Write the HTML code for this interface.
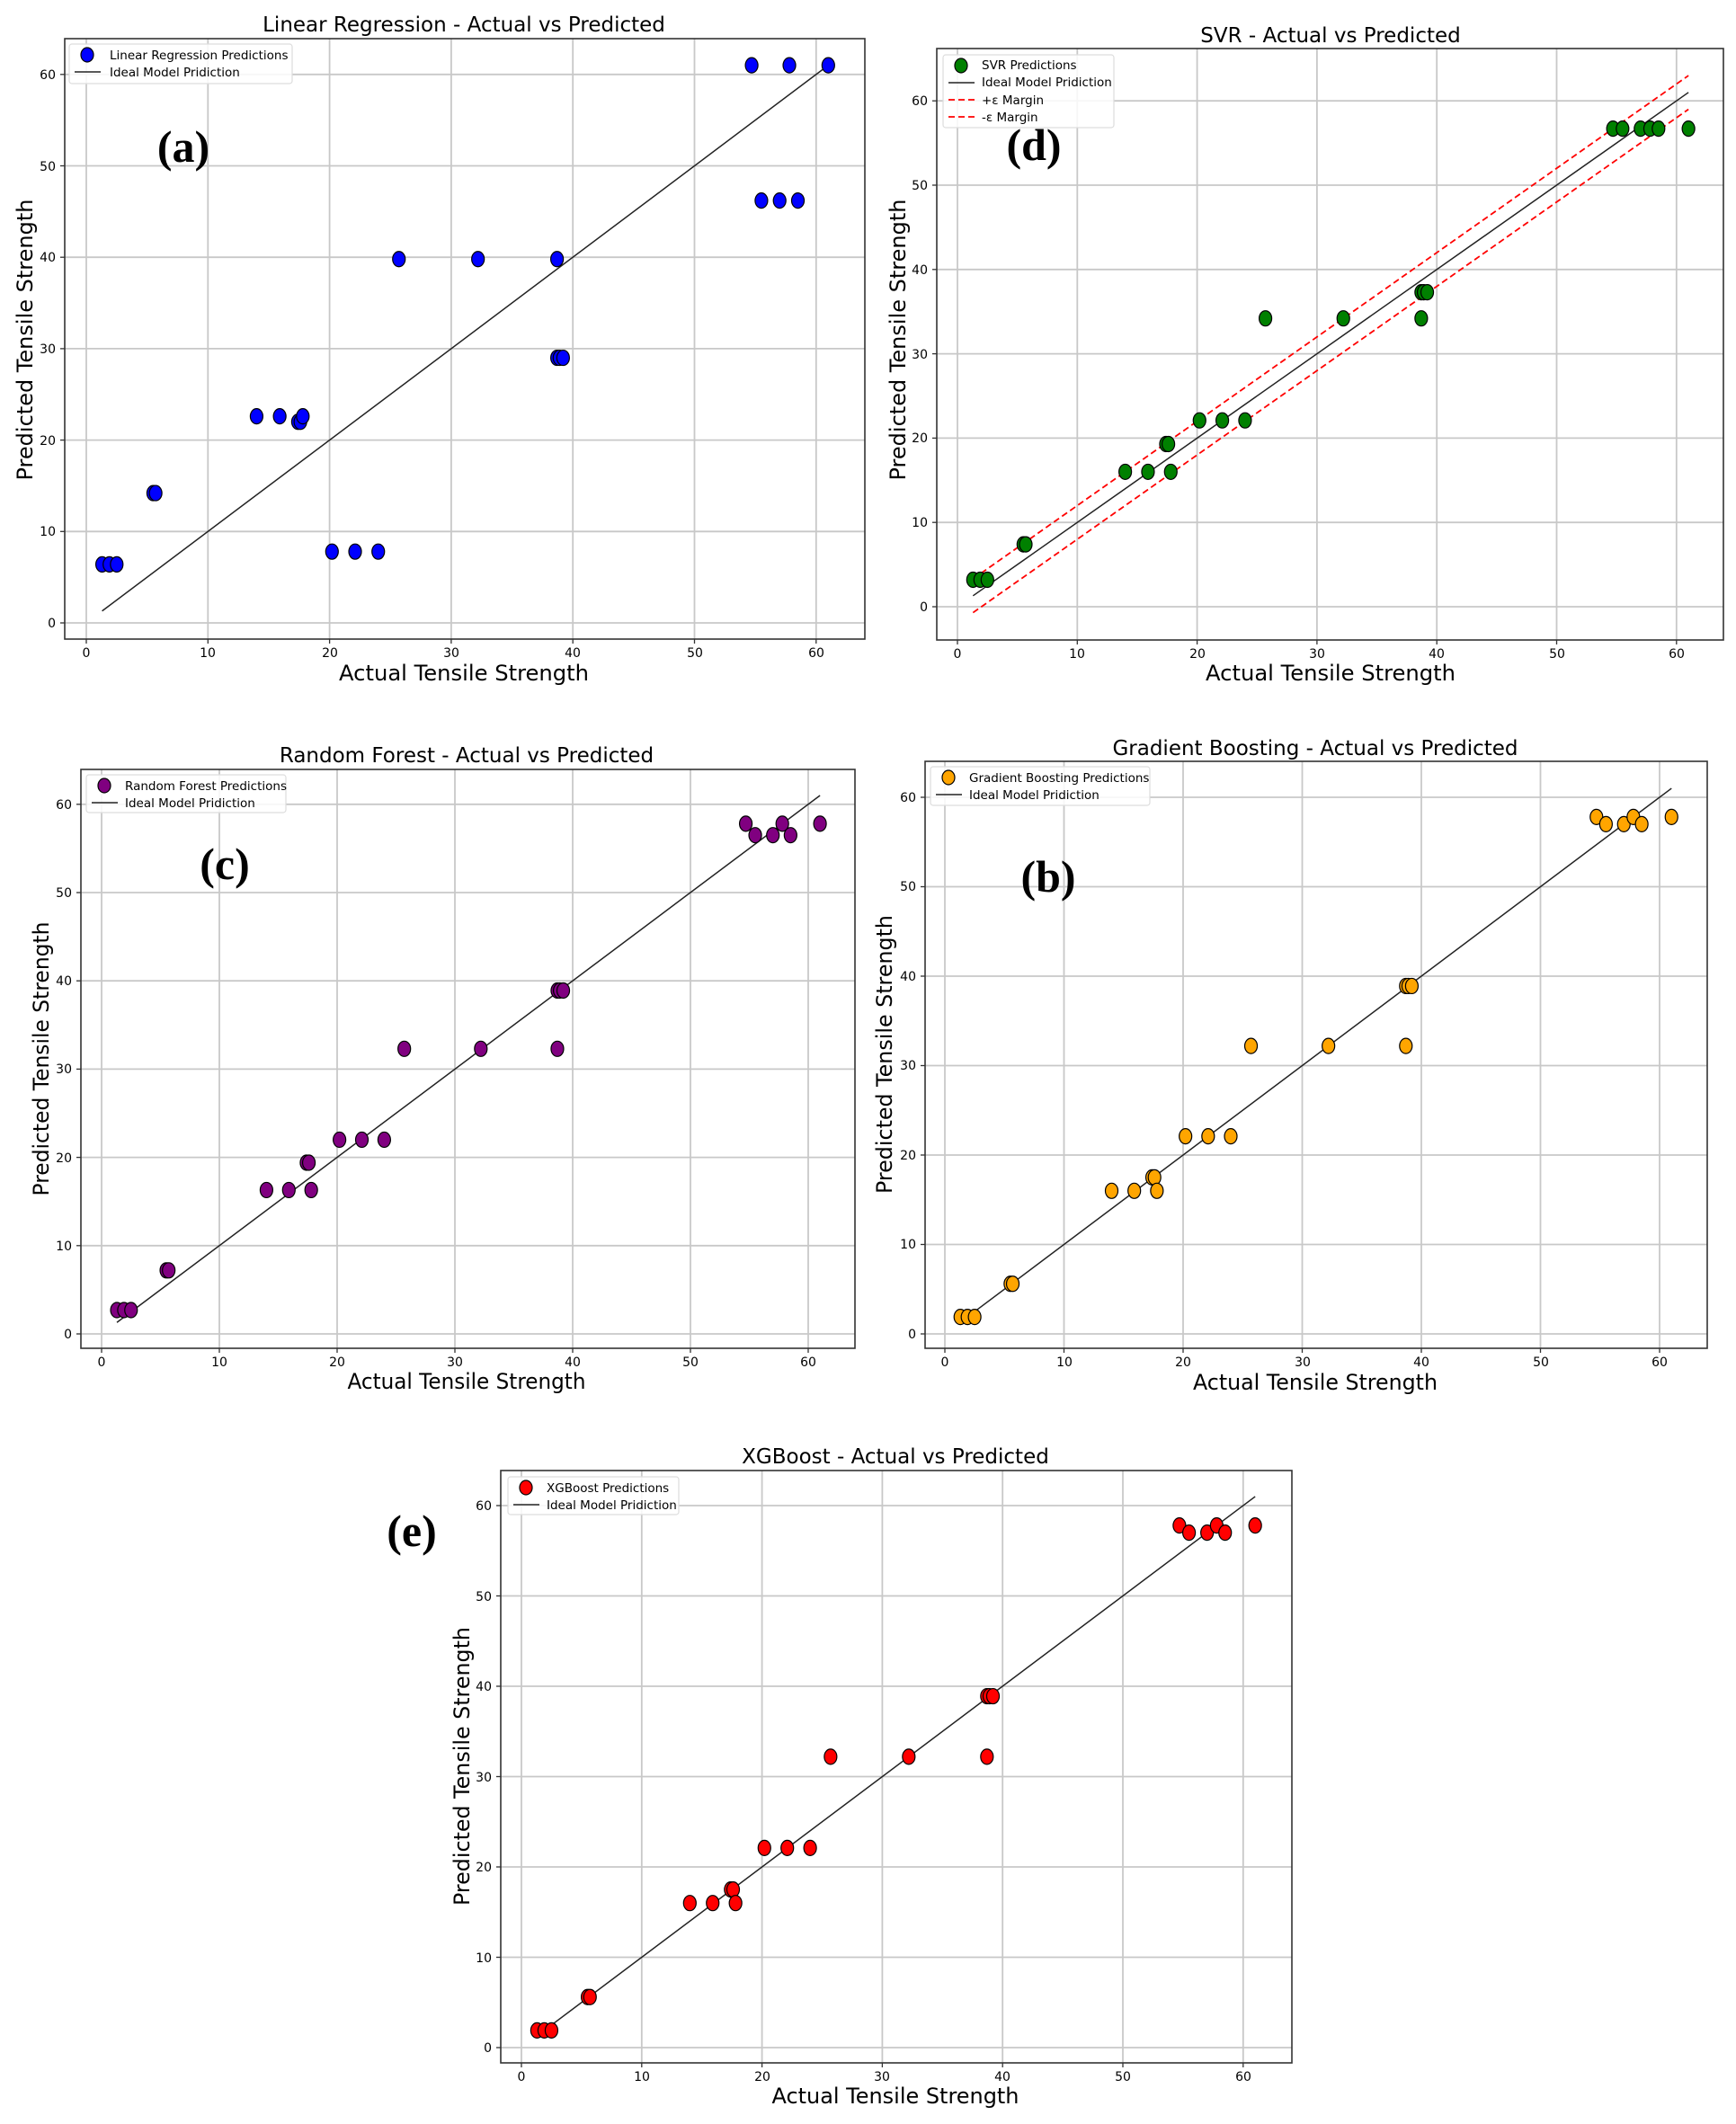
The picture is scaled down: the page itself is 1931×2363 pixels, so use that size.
<!DOCTYPE html>
<html><head><meta charset="utf-8"><style>
html,body{margin:0;padding:0;background:#fff}
svg{display:block}
text{font-family:"DejaVu Sans","Liberation Sans",sans-serif;fill:#000}
.t{font-size:23px}.al{font-size:24px}.tk{font-size:14px}.lg{font-size:13.5px}
.pl{font-family:"Liberation Serif",serif;font-weight:bold;font-size:50px}
</style></head><body>
<svg id="s" width="1931" height="2363" viewBox="0 0 1931 2363" xmlns="http://www.w3.org/2000/svg">
<g id="shapes"></g>
<!-- Panel a -->
<text class="t" x="516" y="35" text-anchor="middle">Linear Regression - Actual vs Predicted</text>
<text class="al" x="516" y="757" text-anchor="middle" textLength="278" lengthAdjust="spacingAndGlyphs">Actual Tensile Strength</text>
<text class="al" transform="translate(36,378) rotate(-90)" text-anchor="middle" textLength="313" lengthAdjust="spacingAndGlyphs">Predicted Tensile Strength</text>
<g class="tk" text-anchor="middle"><text x="96" y="731">0</text><text x="231" y="731">10</text><text x="367" y="731">20</text><text x="502" y="731">30</text><text x="637" y="731">40</text><text x="773" y="731">50</text><text x="908" y="731">60</text></g>
<g class="tk" text-anchor="end"><text x="62" y="698">0</text><text x="62" y="596">10</text><text x="62" y="495">20</text><text x="62" y="393">30</text><text x="62" y="291">40</text><text x="62" y="190">50</text><text x="62" y="88">60</text></g>
<g class="lg"><text x="122" y="66">Linear Regression Predictions</text><text x="122" y="85">Ideal Model Pridiction</text></g>
<text class="pl" x="204" y="180" text-anchor="middle">(a)</text>
<!-- Panel d -->
<text class="t" x="1480" y="47" text-anchor="middle">SVR - Actual vs Predicted</text>
<text class="al" x="1480" y="757" text-anchor="middle" textLength="278" lengthAdjust="spacingAndGlyphs">Actual Tensile Strength</text>
<text class="al" transform="translate(1007,378) rotate(-90)" text-anchor="middle" textLength="313" lengthAdjust="spacingAndGlyphs">Predicted Tensile Strength</text>
<g class="tk" text-anchor="middle"><text x="1065" y="732">0</text><text x="1198" y="732">10</text><text x="1332" y="732">20</text><text x="1465" y="732">30</text><text x="1598" y="732">40</text><text x="1732" y="732">50</text><text x="1865" y="732">60</text></g>
<g class="tk" text-anchor="end"><text x="1032" y="680">0</text><text x="1032" y="586">10</text><text x="1032" y="492">20</text><text x="1032" y="399">30</text><text x="1032" y="305">40</text><text x="1032" y="211">50</text><text x="1032" y="117">60</text></g>
<g class="lg"><text x="1092" y="77">SVR Predictions</text><text x="1092" y="96">Ideal Model Pridiction</text><text x="1092" y="116">+ε Margin</text><text x="1092" y="135">-ε Margin</text></g>
<text class="pl" x="1150" y="178" text-anchor="middle">(d)</text>
<!-- Panel c -->
<text class="t" x="519" y="848" text-anchor="middle">Random Forest - Actual vs Predicted</text>
<text class="al" x="519" y="1545" text-anchor="middle" textLength="265" lengthAdjust="spacingAndGlyphs">Actual Tensile Strength</text>
<text class="al" transform="translate(54,1178) rotate(-90)" text-anchor="middle" textLength="305" lengthAdjust="spacingAndGlyphs">Predicted Tensile Strength</text>
<g class="tk" text-anchor="middle"><text x="113" y="1520">0</text><text x="244" y="1520">10</text><text x="375" y="1520">20</text><text x="506" y="1520">30</text><text x="637" y="1520">40</text><text x="768" y="1520">50</text><text x="899" y="1520">60</text></g>
<g class="tk" text-anchor="end"><text x="80" y="1489">0</text><text x="80" y="1391">10</text><text x="80" y="1293">20</text><text x="80" y="1194">30</text><text x="80" y="1096">40</text><text x="80" y="998">50</text><text x="80" y="900">60</text></g>
<g class="lg"><text x="139" y="879">Random Forest Predictions</text><text x="139" y="898">Ideal Model Pridiction</text></g>
<text class="pl" x="250" y="978" text-anchor="middle">(c)</text>
<!-- Panel b -->
<text class="t" x="1463" y="840" text-anchor="middle">Gradient Boosting - Actual vs Predicted</text>
<text class="al" x="1463" y="1546" text-anchor="middle" textLength="272" lengthAdjust="spacingAndGlyphs">Actual Tensile Strength</text>
<text class="al" transform="translate(992,1173) rotate(-90)" text-anchor="middle" textLength="310" lengthAdjust="spacingAndGlyphs">Predicted Tensile Strength</text>
<g class="tk" text-anchor="middle"><text x="1051" y="1520">0</text><text x="1184" y="1520">10</text><text x="1316" y="1520">20</text><text x="1449" y="1520">30</text><text x="1581" y="1520">40</text><text x="1714" y="1520">50</text><text x="1846" y="1520">60</text></g>
<g class="tk" text-anchor="end"><text x="1019" y="1489">0</text><text x="1019" y="1389">10</text><text x="1019" y="1290">20</text><text x="1019" y="1190">30</text><text x="1019" y="1091">40</text><text x="1019" y="991">50</text><text x="1019" y="892">60</text></g>
<g class="lg"><text x="1078" y="870">Gradient Boosting Predictions</text><text x="1078" y="889">Ideal Model Pridiction</text></g>
<text class="pl" x="1166" y="992" text-anchor="middle">(b)</text>
<!-- Panel e -->
<text class="t" x="996" y="1628" text-anchor="middle">XGBoost - Actual vs Predicted</text>
<text class="al" x="996" y="2340" text-anchor="middle" textLength="275" lengthAdjust="spacingAndGlyphs">Actual Tensile Strength</text>
<text class="al" transform="translate(522,1965) rotate(-90)" text-anchor="middle" textLength="310" lengthAdjust="spacingAndGlyphs">Predicted Tensile Strength</text>
<g class="tk" text-anchor="middle"><text x="580" y="2315">0</text><text x="714" y="2315">10</text><text x="848" y="2315">20</text><text x="981" y="2315">30</text><text x="1115" y="2315">40</text><text x="1249" y="2315">50</text><text x="1383" y="2315">60</text></g>
<g class="tk" text-anchor="end"><text x="547" y="2283">0</text><text x="547" y="2183">10</text><text x="547" y="2082">20</text><text x="547" y="1982">30</text><text x="547" y="1881">40</text><text x="547" y="1781">50</text><text x="547" y="1680">60</text></g>
<g class="lg"><text x="608" y="1660">XGBoost Predictions</text><text x="608" y="1679">Ideal Model Pridiction</text></g>
<text class="pl" x="458" y="1720" text-anchor="middle">(e)</text>
</svg>
<script>
(function(){
var NS="http://www.w3.org/2000/svg",g=document.getElementById("shapes");
function el(t,a){var e=document.createElementNS(NS,t);for(var k in a)e.setAttribute(k,a[k]);g.appendChild(e);return e;}
var X=[1.3,1.9,2.5,5.5,5.7,14,15.9,17.4,17.6,17.8,20.2,22.1,24,25.7,32.2,38.7,38.7,38.9,39.2,54.7,55.5,57,57.8,58.5,61];
var LR=[6.4,6.4,6.4,14.2,14.2,22.6,22.6,22,22,22.6,7.8,7.8,7.8,39.8,39.8,39.8,29,29,29,61,46.2,46.2,61,46.2,61];
var SV=[3.2,3.2,3.2,7.4,7.4,16,16,19.3,19.3,16,22.1,22.1,22.1,34.2,34.2,34.2,37.3,37.3,37.3,56.7,56.7,56.7,56.7,56.7,56.7];
var RF=[2.7,2.7,2.7,7.2,7.2,16.3,16.3,19.4,19.4,16.3,22,22,22,32.3,32.3,32.3,38.9,38.9,38.9,57.8,56.5,56.5,57.8,56.5,57.8];
var GB=[1.9,1.9,1.9,5.6,5.6,16,16,17.5,17.5,16,22.1,22.1,22.1,32.2,32.2,32.2,38.9,38.9,38.9,57.8,57,57,57.8,57,57.8];
var P=[
{X0:96,kx:13.53,Y0:693,ky:10.17,L:72,R:962,T:43,B:711,c:"#0000ff",d:LR,lg:[77,49,325,93],n:2},
{X0:1065,kx:13.33,Y0:675,ky:9.38,L:1042,R:1917,T:54,B:712,c:"#008000",d:SV,lg:[1049,61,1239,142],n:4,eps:1},
{X0:113,kx:13.1,Y0:1484,ky:9.82,L:90,R:951,T:856,B:1500,c:"#800080",d:RF,lg:[96,862,318,904],n:2},
{X0:1051,kx:13.25,Y0:1484,ky:9.95,L:1029,R:1899,T:847,B:1500,c:"#ffa500",d:GB,lg:[1035,853,1279,896],n:2},
{X0:580,kx:13.38,Y0:2278,ky:10.05,L:557,R:1437,T:1636,B:2295,c:"#ff0000",d:GB,lg:[565,1643,755,1685],n:2}];
P.forEach(function(p){
 function px(v){return p.X0+p.kx*v} function py(v){return p.Y0-p.ky*v}
 el("rect",{x:p.L,y:p.T,width:p.R-p.L,height:p.B-p.T,fill:"#fff"});
 for(var v=0;v<=60;v+=10){
  el("line",{x1:px(v),x2:px(v),y1:p.T,y2:p.B,stroke:"#c8c8c8","stroke-width":1.8});
  el("line",{x1:p.L,x2:p.R,y1:py(v),y2:py(v),stroke:"#c8c8c8","stroke-width":1.8});
  el("line",{x1:px(v),x2:px(v),y1:p.B,y2:p.B+5,stroke:"#333","stroke-width":1.3});
  el("line",{x1:p.L-5,x2:p.L,y1:py(v),y2:py(v),stroke:"#333","stroke-width":1.3});
 }
 el("line",{x1:px(1.3),y1:py(1.3),x2:px(61),y2:py(61),stroke:"#222","stroke-width":1.5});
 if(p.eps){
  el("line",{x1:px(1.3),y1:py(3.3),x2:px(61),y2:py(63),stroke:"#ff0000","stroke-width":1.8,"stroke-dasharray":"7,4"});
  el("line",{x1:px(1.3),y1:py(-0.7),x2:px(61),y2:py(59),stroke:"#ff0000","stroke-width":1.8,"stroke-dasharray":"7,4"});
 }
 for(var i=0;i<X.length;i++) el("ellipse",{cx:px(X[i]),cy:py(p.d[i]),rx:7,ry:8.5,fill:p.c,stroke:"#000","stroke-width":1.2});
 el("rect",{x:p.L,y:p.T,width:p.R-p.L,height:p.B-p.T,fill:"none",stroke:"#333","stroke-width":1.6});
 var l=p.lg;
 el("rect",{x:l[0],y:l[1],width:l[2]-l[0],height:l[3]-l[1],rx:3,fill:"#fff","fill-opacity":0.85,stroke:"#ddd","stroke-width":1.2});
 el("ellipse",{cx:l[0]+20,cy:l[1]+12,rx:7,ry:8,fill:p.c,stroke:"#000","stroke-width":1.2});
 el("line",{x1:l[0]+6,x2:l[0]+35,y1:l[1]+31,y2:l[1]+31,stroke:"#222","stroke-width":1.5});
 if(p.eps){
  el("line",{x1:l[0]+6,x2:l[0]+35,y1:l[1]+50,y2:l[1]+50,stroke:"#ff0000","stroke-width":1.8,"stroke-dasharray":"7,4"});
  el("line",{x1:l[0]+6,x2:l[0]+35,y1:l[1]+69,y2:l[1]+69,stroke:"#ff0000","stroke-width":1.8,"stroke-dasharray":"7,4"});
 }
});
})();
</script>
</body></html>
